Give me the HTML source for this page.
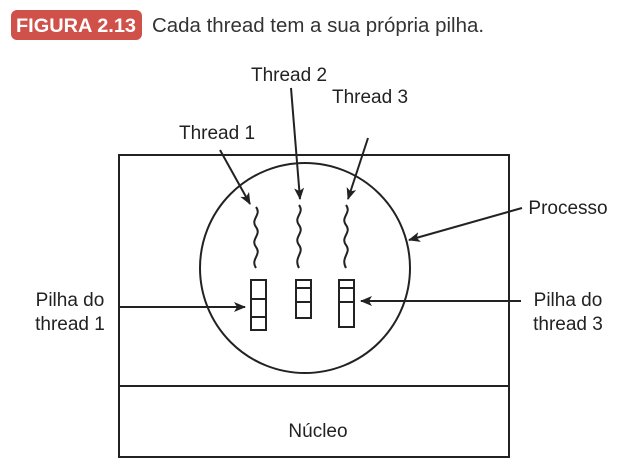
<!DOCTYPE html>
<html><head><style>
body{margin:0;width:619px;height:466px;background:#fff;overflow:hidden;font-family:"Liberation Sans",sans-serif}
</style></head><body>
<svg width="619" height="466" viewBox="0 0 619 466" xmlns="http://www.w3.org/2000/svg" font-family="Liberation Sans, sans-serif">
<defs><marker id="a" markerWidth="12" markerHeight="10" refX="11" refY="5" orient="auto" markerUnits="userSpaceOnUse"><path d="M0,0 L12,5 L0,10 L3,5 Z" fill="#222"/></marker></defs>
<rect x="11" y="10" width="131" height="30" rx="6" fill="#d0514a"/>
<text x="16" y="32" font-size="19.5" font-weight="bold" fill="#fff" textLength="120" lengthAdjust="spacingAndGlyphs">FIGURA 2.13</text>
<text x="152" y="32" font-size="20" fill="#333" textLength="332" lengthAdjust="spacingAndGlyphs">Cada thread tem a sua própria pilha.</text>
<g stroke="#222" stroke-width="2" fill="none">
<rect x="119" y="155" width="390" height="302"/>
<line x1="119" y1="386" x2="509" y2="386"/>
<circle cx="305" cy="268" r="105"/>
<path d="M256,207 c6,8 -6,12 0,20 s-6,12 0,20 s-6,12 0,21"/>
<path d="M299,205 c6,8 -6,12 0,20 s-6,12 0,20 s-6,12 0,23"/>
<path d="M346,205 c6,8 -6,12 0,20 s-6,12 0,20 s-6,12 0,23"/>
<rect x="251" y="280" width="15" height="50"/><line x1="251" y1="299" x2="266" y2="299"/><line x1="251" y1="317" x2="266" y2="317"/>
<rect x="296" y="280" width="15" height="38"/><line x1="296" y1="288" x2="311" y2="288"/><line x1="296" y1="302" x2="311" y2="302"/>
<rect x="339" y="280" width="15" height="47"/><line x1="339" y1="288" x2="354" y2="288"/><line x1="339" y1="302" x2="354" y2="302"/>
<g marker-end="url(#a)">
<line x1="220" y1="150" x2="250" y2="204"/>
<line x1="291" y1="88" x2="300" y2="199"/>
<line x1="368" y1="138" x2="348" y2="199"/>
<line x1="522" y1="208" x2="409" y2="240"/>
<line x1="118" y1="307" x2="245" y2="307"/>
<line x1="521" y1="301" x2="361" y2="301"/>
</g></g>
<g font-size="19" fill="#222" text-anchor="middle">
<text x="217" y="139">Thread 1</text>
<text x="289" y="81">Thread 2</text>
<text x="370" y="103">Thread 3</text>
<text x="568" y="214">Processo</text>
<text x="70" y="306">Pilha do</text><text x="70" y="330">thread 1</text>
<text x="568" y="306">Pilha do</text><text x="568" y="330">thread 3</text>
<text x="318" y="437">Núcleo</text>
</g>
</svg>
</body></html>
